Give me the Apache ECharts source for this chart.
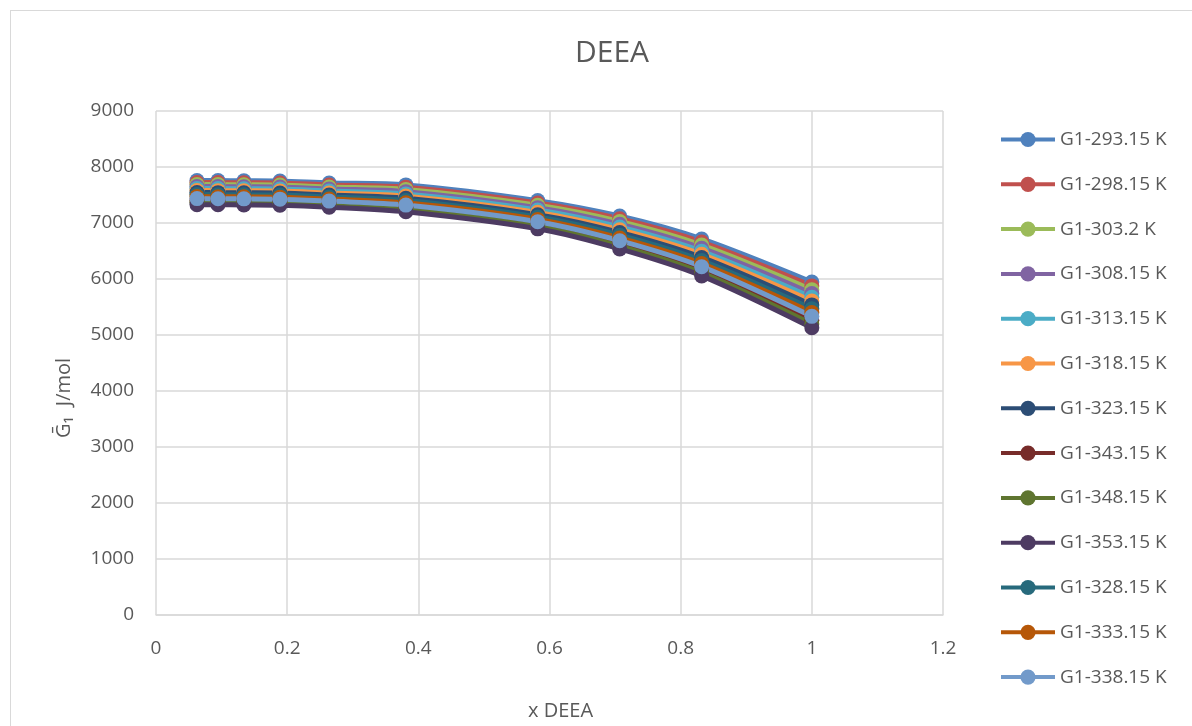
<!DOCTYPE html>
<html><head><meta charset="utf-8">
<script src="https://cdn.jsdelivr.net/npm/echarts@6/dist/echarts.min.js"></script>
<style>
html,body{margin:0;padding:0;background:#fff;}
#frame{position:absolute;left:10px;top:10px;width:1190px;height:730px;border:1px solid #d9d9d9;box-sizing:border-box;}
#chart{position:absolute;left:0;top:0;width:1192px;height:726px;}
</style>
</head><body>
<div id="frame"></div>
<div id="chart"></div>
<script>
const xValues = [0.0625, 0.0945, 0.134, 0.189, 0.264, 0.381, 0.582, 0.707, 0.832, 1.0];
const seriesNames = ['G1-293.15 K','G1-298.15 K','G1-303.2 K','G1-308.15 K','G1-313.15 K','G1-318.15 K','G1-323.15 K','G1-343.15 K','G1-348.15 K','G1-353.15 K','G1-328.15 K','G1-333.15 K','G1-338.15 K'];
const g293 = [7760, 7758, 7755, 7750, 7715, 7680, 7400, 7125, 6715, 5945];
const g298 = [7724, 7722, 7719, 7714, 7679, 7640, 7358, 7076, 6660, 5877];
const g303 = [7688, 7686, 7683, 7678, 7643, 7600, 7316, 7027, 6605, 5809];
const g308 = [7652, 7650, 7647, 7642, 7607, 7560, 7274, 6978, 6550, 5741];
const g313 = [7616, 7614, 7611, 7606, 7571, 7520, 7232, 6929, 6495, 5673];
const g318 = [7580, 7578, 7575, 7570, 7535, 7480, 7190, 6880, 6440, 5605];
const g323 = [7544, 7542, 7539, 7534, 7499, 7440, 7148, 6831, 6385, 5537];
const g343 = [7400, 7398, 7395, 7390, 7355, 7280, 6980, 6635, 6165, 5265];
const g348 = [7364, 7362, 7359, 7354, 7319, 7240, 6938, 6586, 6110, 5197];
const g353 = [7328, 7326, 7323, 7318, 7283, 7200, 6896, 6537, 6055, 5129];
const g328 = [7508, 7506, 7503, 7498, 7463, 7400, 7106, 6782, 6330, 5469];
const g333 = [7472, 7470, 7467, 7462, 7427, 7360, 7064, 6733, 6275, 5401];
const g338 = [7436, 7434, 7431, 7426, 7391, 7320, 7022, 6684, 6220, 5333];
const seriesValues = [g293,g298,g303,g308,g313,g318,g323,g343,g348,g353,g328,g333,g338];
const colors = ['#4F81BD','#C0504D','#9BBB59','#8064A2','#4BACC6','#F79646','#2C4D75','#772C2A','#5F7530','#4D3B62','#276A7C','#B65708','#729ACA'];

const chart = echarts.init(document.getElementById('chart'));
const txt = '#595959';
const ff = 'Open Sans';
chart.setOption({
  animation:false,
  color: colors,
  title:{text:'DEEA', left:607, top:33, textAlign:'center',
    textStyle:{fontFamily:ff, fontSize:30, fontWeight:'normal', color:txt}},
  legend:{orient:'vertical', left:994, top:125, itemGap:25.8, itemWidth:54, itemHeight:19,
    textStyle:{fontFamily:ff, fontSize:19, color:txt},
    lineStyle:{width:4},
    data: seriesNames},
  grid:{left:156, right:249, top:111, bottom:111, containLabel:false},
  xAxis:{type:'value', min:0, max:1.2, interval:0.2,
    name:'x DEEA', nameLocation:'middle', nameGap:86, nameMoveOverlap:false,
    nameTextStyle:{fontFamily:ff, fontSize:20, color:txt, padding:[0,0,0,22]},
    axisLine:{show:true, lineStyle:{color:'#d9d9d9', width:1.5}},
    axisTick:{show:false},
    axisLabel:{fontFamily:ff, fontSize:19, color:txt, margin:24, formatter:v=>String(Math.round(v*10)/10)},
    splitLine:{show:true, lineStyle:{color:'#d9d9d9', width:1.5}}},
  yAxis:{type:'value', min:0, max:9000, interval:1000,
    name:'Ḡ₁  J/mol', nameLocation:'middle', nameGap:82, nameMoveOverlap:false,
    nameTextStyle:{fontFamily:ff, fontSize:20, color:txt, padding:[0,70,0,0]},
    axisLine:{show:false}, axisTick:{show:false},
    axisLabel:{fontFamily:ff, fontSize:19, color:txt, margin:22, formatter:v=>String(v)},
    splitLine:{show:true, lineStyle:{color:'#d9d9d9', width:1.5}}},
  series: seriesNames.map((n,i)=>({
    name:n, type:'line', smooth:0.3,
    data: xValues.map((x,j)=>[x, seriesValues[i][j]]),
    symbol:'circle', symbolSize:15,
    lineStyle:{width:5, color:colors[i]},
    itemStyle:{color:colors[i]}
  }))
});
</script>
</body></html>
